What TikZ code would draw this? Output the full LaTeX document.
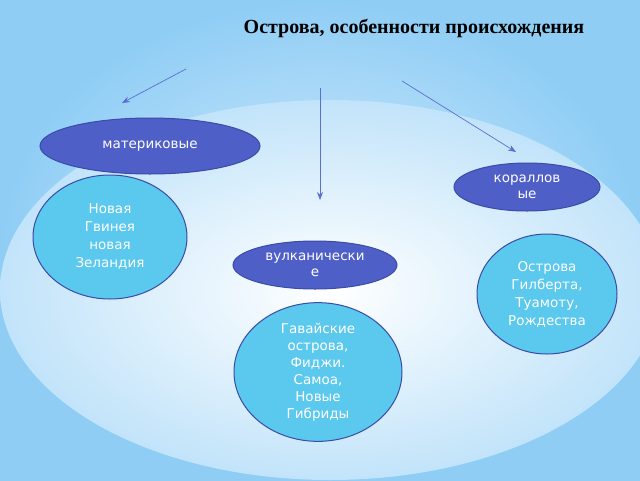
\documentclass[tikz,border=0pt]{standalone}
\usepackage{fontspec}
\setmainfont{DejaVu Sans}
\newfontfamily\titlefont{Liberation Serif}
\usetikzlibrary{shapes.geometric,arrows.meta}
\definecolor{bgblue}{HTML}{8FCDF5}
\definecolor{darkov}{HTML}{4F5FC8}
\definecolor{lightov}{HTML}{5BC8EE}
\definecolor{edgeb}{HTML}{3A4BA8}
\definecolor{arr}{HTML}{5A6FD0}
\tikzset{
 dark/.style={ellipse,draw=edgeb,line width=1pt,fill=darkov,text=white,font=\fontsize{13.5}{16}\selectfont,align=center,inner sep=0pt},
 light/.style={ellipse,draw=edgeb,line width=1pt,fill=lightov,text=white,font=\fontsize{13.5}{18}\selectfont,align=center,inner sep=0pt},
 arrow/.style={draw=arr,line width=0.7pt,-{Stealth[length=8pt,width=6pt]}}
}
\begin{document}
\begin{tikzpicture}[x=1pt,y=-1pt]
\useasboundingbox (0,0) rectangle (640,480);
\shade[inner color=bgblue!40,outer color=bgblue] (0,0) rectangle (640,480);
\shade[inner color=white,outer color=bgblue!55] (330,290) ellipse (330 and 190);
\node[font=\titlefont\bfseries\fontsize{20}{24}\selectfont] (title) at (414,28) {Острова, особенности происхождения};
\node[dark,minimum width=220,minimum height=56] (mat) at (150,146) {материковые};
\node[dark,minimum width=146,minimum height=48] (kor) at (527,187) {кораллов\\ые};
\node[dark,minimum width=164,minimum height=48] (vul) at (315,265) {вулканически\\е};
\node[light,minimum width=154,minimum height=124] (ng) at (110,237) {Новая\\Гвинея\\новая\\Зеландия};
\node[light,minimum width=140,minimum height=120] (gil) at (547,294) {Острова\\Гилберта,\\Туамоту,\\Рождества};
\node[light,minimum width=168,minimum height=132,font=\fontsize{13.5}{17}\selectfont] (gav) at (318,372) {Гавайские\\острова,\\Фиджи.\\Самоа,\\Новые\\Гибриды};
\coordinate (a1) at (186,69);
\coordinate (a2) at (320,88);
\coordinate (a3) at (402,81);
\coordinate (b1) at (122,103);
\coordinate (b2) at (320,200);
\coordinate (b3) at (516,152);
\draw[arrow] (a1) -- (b1);
\draw[arrow] (a2) -- (b2);
\draw[arrow] (a3) -- (b3);
\end{tikzpicture}
\end{document}
